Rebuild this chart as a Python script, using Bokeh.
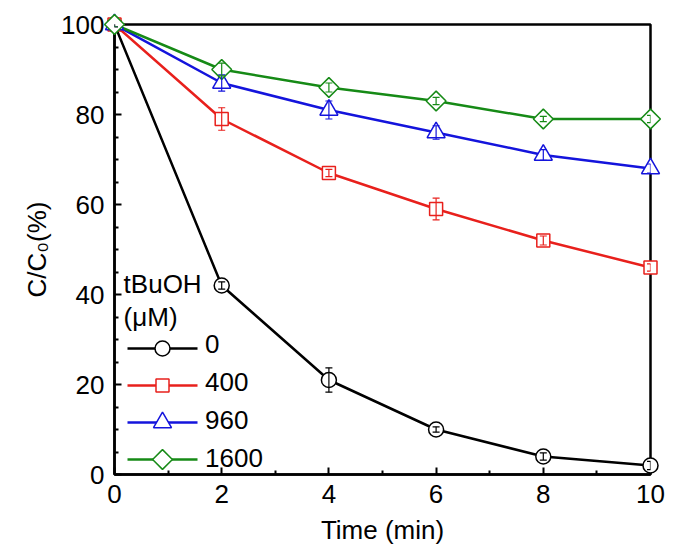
import numpy as np
from bokeh.plotting import figure
from bokeh.models import Legend, LegendItem, Whisker, ColumnDataSource, Label, FixedTicker, TeeHead
from bokeh.embed import file_html
from bokeh.resources import INLINE

time = [0, 2, 4, 6, 8, 10]
labels = ["0", "400", "960", "1600"]
c0 = [100, 42, 21, 10, 4, 2]
c400 = [100, 79, 67, 59, 52, 46]
c960 = [100, 87, 81, 76, 71, 68]
c1600 = [100, 90, 86, 83, 79, 79]
e0 = [0.5, 0.8, 2.7, 0.6, 0.8, 0.9]
e400 = [0.5, 2.5, 0.8, 2.4, 1.0, 0.8]
e960 = [0.5, 1.8, 2.0, 1.5, 1.2, 1.0]
e1600 = [0.5, 1.4, 1.0, 0.8, 0.6, 0.8]

series = [c0, c400, c960, c1600]
errors = [e0, e400, e960, e1600]
colors = ["#000000", "#e8201c", "#1414dc", "#168a16"]
markers = ["circle", "square", "triangle", "square"]
sizes = [15, 13, 18, 14]
angles = [0, 0, 0, np.pi / 4]

FONT = "Liberation Sans"
FS = "26px"
FW, FH = 536, 450
X0, X1, Y0, Y1 = 0, 10, 0, 100

p = figure(frame_width=FW, frame_height=FH, x_range=(X0, X1), y_range=(Y0, Y1),
           output_backend="svg", toolbar_location=None,
           min_border_left=114, min_border_right=18, min_border_top=24, min_border_bottom=70)
p.grid.visible = False
p.outline_line_color = "black"
p.outline_line_width = 2.5
p.background_fill_color = "white"

for ax in (p.xaxis[0], p.yaxis[0]):
    ax.axis_line_width = 2.5
    ax.major_tick_in = 7
    ax.major_tick_out = 0
    ax.minor_tick_in = 4
    ax.minor_tick_out = 0
    ax.major_tick_line_width = 2
    ax.minor_tick_line_width = 2
    ax.major_label_text_font = FONT
    ax.major_label_text_font_size = FS
    ax.major_label_text_color = "black"
    ax.axis_label_text_font = FONT
    ax.axis_label_text_font_size = FS
    ax.axis_label_text_font_style = "normal"
    ax.axis_label_text_color = "black"

p.xaxis.ticker = FixedTicker(ticks=[0, 2, 4, 6, 8, 10], minor_ticks=[1, 3, 5, 7, 9])
p.yaxis.ticker = FixedTicker(ticks=[0, 20, 40, 60, 80, 100],
                             minor_ticks=[v for v in range(0, 101, 5) if v % 20 != 0])
p.xaxis.axis_label = "Time (min)"
p.yaxis.axis_label = "C/C₀(%)"
p.xaxis.major_label_standoff = 10
p.yaxis.major_label_standoff = 10
p.xaxis.axis_label_standoff = 9
p.yaxis.axis_label_standoff = 6

for vals, errs, col, mk, sz, ang in zip(series, errors, colors, markers, sizes, angles):
    src = ColumnDataSource(dict(x=time, y=vals,
                                lo=[v - e for v, e in zip(vals, errs)],
                                hi=[v + e for v, e in zip(vals, errs)]))
    p.line("x", "y", source=src, line_color=col, line_width=2.5)
    p.scatter("x", "y", source=src, marker=mk, size=sz, angle=ang,
              fill_color="white", line_color=col, line_width=1.5, level="annotation")
    w = Whisker(base="x", upper="hi", lower="lo", source=src, line_color=col, line_width=1.2,
                upper_head=TeeHead(size=7, line_color=col, line_width=1.2),
                lower_head=TeeHead(size=7, line_color=col, line_width=1.2), level="overlay")
    p.add_layout(w)

# legend: labels via Legend, glyphs drawn at the legend's slot positions
LEG_X, LEG_GW, LEG_GH, LEG_SP = 13, 70, 30, 7
dummy = p.line([0], [0], line_alpha=0)
items = [LegendItem(label=lab, renderers=[dummy]) for lab in labels]
legend = Legend(items=items, location=(LEG_X, 0), padding=0, margin=0, spacing=LEG_SP,
                glyph_width=LEG_GW, glyph_height=LEG_GH, label_height=LEG_GH, label_standoff=8,
                label_text_font=FONT, label_text_font_size=FS, label_text_color="black",
                background_fill_alpha=0, border_line_alpha=0)
p.add_layout(legend, "center")

px_x = (X1 - X0) / FW
px_y = (Y1 - Y0) / FH
n = len(labels)
for i, (col, mk, sz, ang) in enumerate(zip(colors, markers, sizes, angles)):
    cy = (LEG_GH / 2 + (n - 1 - i) * (LEG_GH + LEG_SP)) * px_y
    xa, xb = LEG_X * px_x, (LEG_X + LEG_GW) * px_x
    p.segment(x0=[xa], y0=[cy], x1=[xb], y1=[cy], line_color=col, line_width=2.5)
    p.scatter(x=[(xa + xb) / 2], y=[cy], marker=mk, size=sz, angle=ang,
              fill_color="white", line_color=col, line_width=1.5, level="annotation")

for lab, yv in zip(["tBuOH", "(μM)"], [42.4, 34.9]):
    p.add_layout(Label(x=0.17, y=yv, text=lab, text_font=FONT,
                       text_font_size=FS, text_color="black", text_baseline="alphabetic"))

open("out.html", "w").write(file_html(p, INLINE))
